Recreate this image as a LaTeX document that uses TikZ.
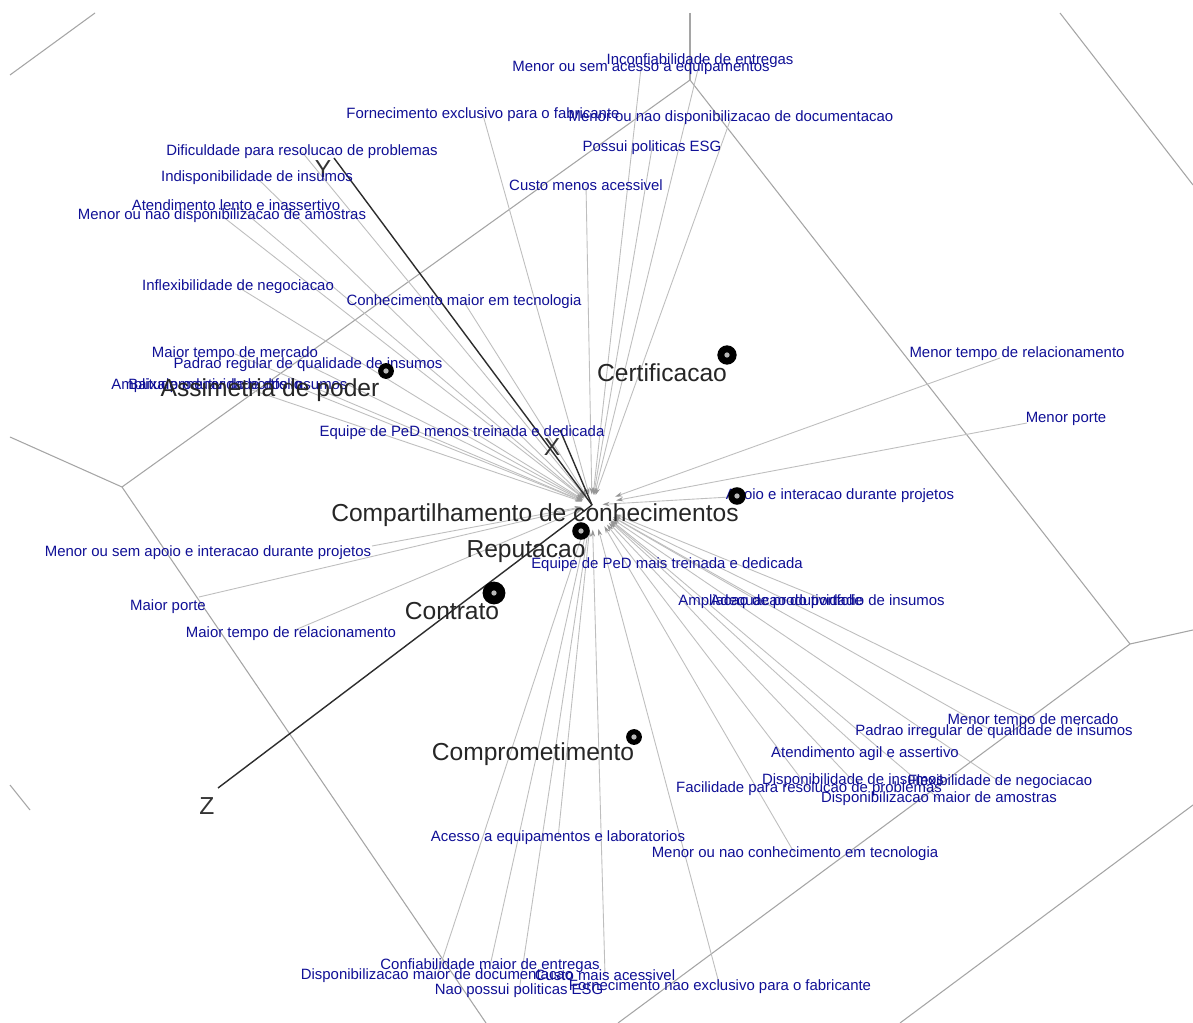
\documentclass[tikz,border=0pt]{standalone}
\usepackage{fontspec}
\setmainfont{Liberation Sans}
\usetikzlibrary{arrows.meta}
\definecolor{attrblue}{RGB}{16,16,150}
\definecolor{cellgray}{RGB}{165,165,165}
\definecolor{raygray}{RGB}{190,190,190}
\definecolor{axisdark}{RGB}{45,45,45}
\definecolor{tipgray}{RGB}{150,150,150}
\pgfdeclarelayer{back}
\pgfsetlayers{back,main}
\begin{document}
\begin{tikzpicture}[x=0.02cm,y=-0.02cm,
  cell/.style={draw=cellgray,line width=0.6pt},
  ray/.style={draw=raygray,line width=0.5pt,shorten >=6pt,
    -{Stealth[length=4pt,width=2.5pt,color=tipgray]}},
  longray/.style={ray,shorten >=14pt},
  axisline/.style={draw=axisdark,line width=0.8pt},
  attr/.style={text=attrblue,font=\fontsize{8.5}{9}\selectfont,inner sep=0pt},
  group/.style={text=black!85,font=\fontsize{14}{15}\selectfont,inner sep=0pt},
  axislabel/.style={text=black!80,font=\fontsize{14}{15}\selectfont,inner sep=0pt},
  point/.style={circle,fill=black,inner sep=0pt,minimum size=#1},
  core/.style={circle,fill=gray!55,inner sep=0pt,minimum size=3pt}]
\useasboundingbox (0,0) rectangle (1193,1023);

% ---------- common origin ----------
\coordinate (H) at (592,505);

% ---------- axes ----------
\node[axislabel] (ax) at (552,447) {X};
\node[axislabel] (ay) at (323,169) {Y};
\node[axislabel] (az) at (207,806) {Z};
\coordinate (ax0) at (560,430);
\coordinate (ay0) at (334,158);
\coordinate (az0) at (218,788);

% ---------- attribute labels ----------
\node[attr] (t1) at (700,61) {Inconfiabilidade de entregas};
\node[attr] (t2) at (641,68) {Menor ou sem acesso a equipamentos};
\node[attr] (t3) at (483,115) {Fornecimento exclusivo para o fabricante};
\node[attr] (t4) at (731,118) {Menor ou nao disponibilizacao de documentacao};
\node[attr] (t5) at (652,148) {Possui politicas ESG};
\node[attr] (t6) at (586,185) {Custo menos acessivel};
\node[attr] (t7) at (302,152) {Dificuldade para resolucao de problemas};
\node[attr] (t8) at (257,178) {Indisponibilidade de insumos};
\node[attr] (t9) at (236,205) {Atendimento lento e inassertivo};
\node[attr] (t10) at (222,216) {Menor ou nao disponibilizacao de amostras};
\node[attr] (t11) at (238,287) {Inflexibilidade de negociacao};
\node[attr] (t12) at (464,302) {Conhecimento maior em tecnologia};
\node[attr] (t13) at (235,354) {Maior tempo de mercado};
\node[attr] (t14) at (308,365) {Padrao regular de qualidade de insumos};
\node[attr,anchor=west] (t15) at (111,386) {Amplitude menor do portfolio};
\node[attr,anchor=west] (t16) at (128,386) {Baixa produtividade dos insumos};
\node[attr] (t17) at (462,433) {Equipe de PeD menos treinada e dedicada};
\node[attr] (t18) at (208,553) {Menor ou sem apoio e interacao durante projetos};
\node[attr] (t19) at (168,607) {Maior porte};
\node[attr] (t20) at (291,634) {Maior tempo de relacionamento};
\node[attr] (t21) at (1017,354) {Menor tempo de relacionamento};
\node[attr] (t22) at (1066,419) {Menor porte};
\node[attr] (t23) at (840,496) {Apoio e interacao durante projetos};
\node[attr] (t24) at (667,565) {Equipe de PeD mais treinada e dedicada};
\node[attr,anchor=west] (t25) at (678,602) {Ampliacao de produtividade};
\node[attr,anchor=east] (t26) at (945,602) {Adequacao do portfolio de insumos};
\node[attr] (t27) at (1033,721) {Menor tempo de mercado};
\node[attr] (t28) at (994,732) {Padrao irregular de qualidade de insumos};
\node[attr] (t29) at (865,754) {Atendimento agil e assertivo};
\node[attr] (t30) at (853,781) {Disponibilidade de insumos};
\node[attr] (t31) at (1000,782) {Flexibilidade de negociacao};
\node[attr] (t32) at (809,789) {Facilidade para resolucao de problemas};
\node[attr] (t33) at (939,799) {Disponibilizacao maior de amostras};
\node[attr] (t34) at (795,854) {Menor ou nao conhecimento em tecnologia};
\node[attr] (t35) at (558,838) {Acesso a equipamentos e laboratorios};
\node[attr] (t36) at (490,966) {Confiabilidade maior de entregas};
\node[attr] (t37) at (437,976) {Disponibilizacao maior de documentacao};
\node[attr] (t38) at (605,975) {Custo mais acessivel};
\node[attr] (t39) at (519,991) {Nao possui politicas ESG};
\node[attr] (t40) at (720,987) {Fornecimento nao exclusivo para o fabricante};

% line ends that sit off the label centre
\coordinate (e15) at (240,386);
\coordinate (e16) at (300,388);
\coordinate (e18) at (372,546);
\coordinate (e19) at (199,597);
\coordinate (e20) at (295,630);
\coordinate (e21) at (1000,358);
\coordinate (e22) at (1027,423);
\coordinate (e23) at (730,497);
\coordinate (e25) at (760,602);
\coordinate (e26) at (830,602);

\begin{pgfonlayer}{back}
  \fill[white] (0,0) rectangle (1193,1023);
  % partition lines
  \coordinate (v1) at (690,80);
  \coordinate (v2) at (122,487);
  \coordinate (v3) at (1130,644);
  \draw[cell] (10,75) -- (95,13);
  \draw[cell] (690,13) -- (v1);
  \draw[cell] (v1) -- (v2);
  \draw[cell] (v2) -- (10,437);
  \draw[cell] (v2) -- (486,1023);
  \draw[cell] (v1) -- (v3);
  \draw[cell] (v3) -- (1193,630);
  \draw[cell] (v3) -- (618,1023);
  \draw[cell] (1193,805) -- (900,1023);
  \draw[cell] (1060,13) -- (1193,185);
  \draw[cell] (10,785) -- (30,810);
  % rays from each attribute to the origin
  \foreach \n in {t1,t2,t3,t4,t5,t6,t7,t8,t9,t10,t11,t12,t13,t14,t17}
    \draw[ray] (\n.center) -- (H);
  \foreach \n in {t24,t27,t28,t29,t30,t31,t32,t33,t34,t35,t36,t37,t38,t39,t40}
    \draw[longray] (\n.center) -- (H);
  \foreach \n in {e15,e16,e18,e19,e20,e23}
    \draw[ray] (\n) -- (H);
  \foreach \n in {e21,e22,e25,e26}
    \draw[longray] (\n) -- (H);
  % axes
  \draw[axisline] (ax0) -- (H);
  \draw[axisline] (ay0) -- (H);
  \draw[axisline] (az0) -- (H);
\end{pgfonlayer}

% ---------- group points ----------
\node[point=11pt] (p1) at (727,355) {};
\node[point=9pt] (p2) at (386,371) {};
\node[point=10pt] (p3) at (737,496) {};
\node[point=10pt] (p4) at (581,531) {};
\node[point=13pt] (p5) at (494,593) {};
\node[point=9pt] (p6) at (634,737) {};
\foreach \p in {p1,p2,p3,p4,p5,p6}
  \node[core] at (\p) {};

\node[group] (g1) at (662,373) {Certificacao};
\node[group] (g2) at (270,390) {Assimetria de poder};
\node[group] (g3) at (535,515) {Compartilhamento de conhecimentos};
\node[group] (g4) at (526,552) {Reputacao};
\node[group] (g5) at (452,611) {Contrato};
\node[group] (g6) at (533,754) {Comprometimento};
\end{tikzpicture}
\end{document}
